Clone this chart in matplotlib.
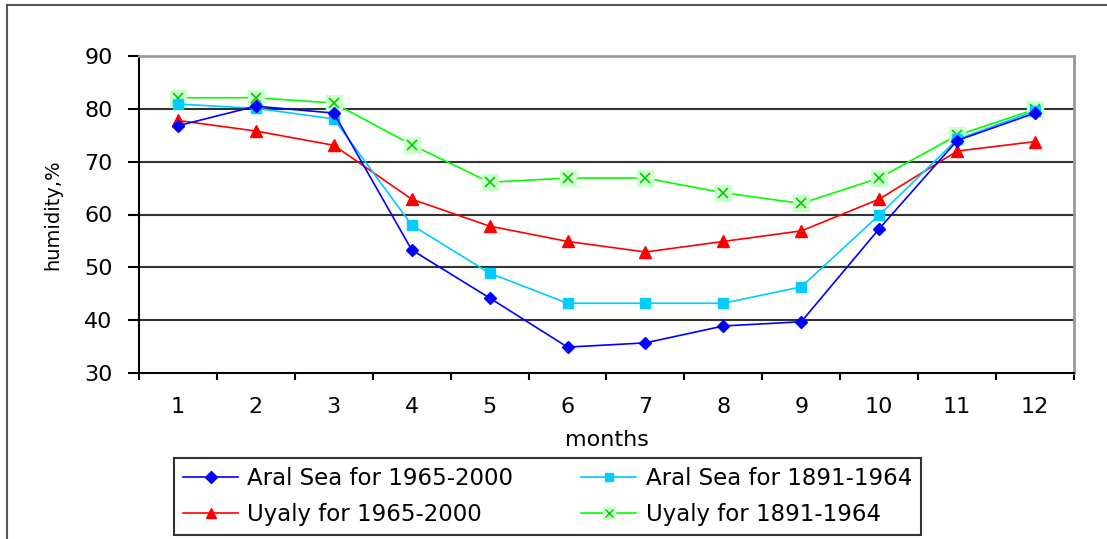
import matplotlib
matplotlib.use("Agg")
import matplotlib.pyplot as plt
from matplotlib.lines import Line2D
from matplotlib.legend_handler import HandlerTuple

plt.rcParams['font.family'] = ['DejaVu Sans']

months = [1, 2, 3, 4, 5, 6, 7, 8, 9, 10, 11, 12]
aral_1965_2000 = [76.8, 80.5, 79.2, 53.3, 44.2, 34.9, 35.7, 38.9, 39.7, 57.3, 74.0, 79.2]
aral_1891_1964 = [80.9, 80.1, 78.1, 58.0, 48.9, 43.2, 43.2, 43.2, 46.3, 59.9, 74.2, 79.6]
uyaly_1965_2000 = [77.8, 75.8, 73.1, 62.9, 57.8, 54.9, 52.9, 54.9, 56.9, 62.9, 72.0, 73.8]
uyaly_1891_1964 = [82.1, 82.1, 81.1, 73.2, 66.1, 66.9, 66.9, 64.1, 62.1, 66.9, 75.0, 79.9]
y_ticks = [30, 40, 50, 60, 70, 80, 90]

W, H = 1107, 539
fig = plt.figure(figsize=(W / 100, H / 100), dpi=100)
ax = fig.add_axes([139 / W, 1 - 373 / H, (1074 - 139) / W, (373 - 56) / H])

# Outer chart frame
fig.add_artist(Line2D([7 / W, 1.0], [1 - 5 / H, 1 - 5 / H], transform=fig.transFigure, color='#555555', lw=1.5))
fig.add_artist(Line2D([7 / W, 7 / W], [0, 1 - 5 / H], transform=fig.transFigure, color='#555555', lw=1.5))

# Series
ax.plot(months, aral_1965_2000, color='#0000FF', lw=1.2, marker='D', ms=6, mfc='#0000FF', mec='#0000FF', zorder=5)
ax.plot(months, aral_1891_1964, color='#00CCFF', lw=1.2, marker='s', ms=7, mfc='#00CCFF', mec='#00CCFF', zorder=4)
ax.plot(months, uyaly_1965_2000, color='#FF0000', lw=1.2, marker='^', ms=8, mfc='#FF0000', mec='#FF0000', zorder=3)
ax.plot(months, uyaly_1891_1964, color='#00FF00', lw=1.2, marker='s', ms=11, mfc='#CCFFCC', mec='#CCFFCC', zorder=2)
ax.plot(months, uyaly_1891_1964, color='none', lw=0, marker='x', ms=7, mew=1.2, mec='#00CC00', zorder=2.5)

ax.set_xlim(0.5, 12.5)
ax.set_ylim(30, 90)
ax.set_yticks(y_ticks)
ax.set_xticks(months)
ax.set_xticks([m - 0.5 for m in months] + [12.5], minor=True)
ax.tick_params(axis='x', which='major', length=0, pad=17, labelsize=16)
ax.tick_params(axis='x', which='minor', length=5, width=1.5, direction='out', color='black')
ax.tick_params(axis='y', which='major', length=8, width=1.5, direction='out', labelsize=16, pad=11)

for y in [40, 50, 60, 70, 80]:
    ax.axhline(y, color='#333333', lw=1.5, zorder=1)

for side in ['left', 'bottom']:
    ax.spines[side].set_color('black')
    ax.spines[side].set_linewidth(1.5)
for side in ['top', 'right']:
    ax.spines[side].set_color('#999999')
    ax.spines[side].set_linewidth(2)

ax.set_ylabel('humidity,%', fontsize=14, labelpad=16)
ax.set_xlabel('months', fontsize=16, labelpad=10)

h1 = Line2D([], [], color='#0000FF', lw=1.2, marker='D', ms=6, mfc='#0000FF', mec='#0000FF')
h2 = Line2D([], [], color='#00CCFF', lw=1.2, marker='s', ms=6, mfc='#00CCFF', mec='#00CCFF')
h3 = Line2D([], [], color='#FF0000', lw=1.2, marker='^', ms=7, mfc='#FF0000', mec='#FF0000')
h4a = Line2D([], [], color='#00FF00', lw=1.2, marker='s', ms=9, mfc='#CCFFCC', mec='#CCFFCC')
h4b = Line2D([], [], color='none', lw=0, marker='x', ms=6, mew=1.0, mec='#00CC00')

leg = fig.legend([h1, h3, h2, (h4a, h4b)],
                 ['Aral Sea for 1965-2000', 'Uyaly for 1965-2000',
                  'Aral Sea for 1891-1964', 'Uyaly for 1891-1964'],
                 handler_map={tuple: HandlerTuple(ndivide=1)},
                 loc='lower left', bbox_to_anchor=(174 / W, 1 - 535 / H, (921 - 174) / W, (535 - 463) / H),
                 mode='expand', ncol=2, fontsize=16.5, frameon=True, fancybox=False,
                 edgecolor='black', handlelength=2.4, handletextpad=0.4, columnspacing=1.0,
                 borderpad=0.4, labelspacing=0.55, borderaxespad=0)
leg.get_frame().set_linewidth(1.5)

fig.savefig('out.png', dpi=100)
